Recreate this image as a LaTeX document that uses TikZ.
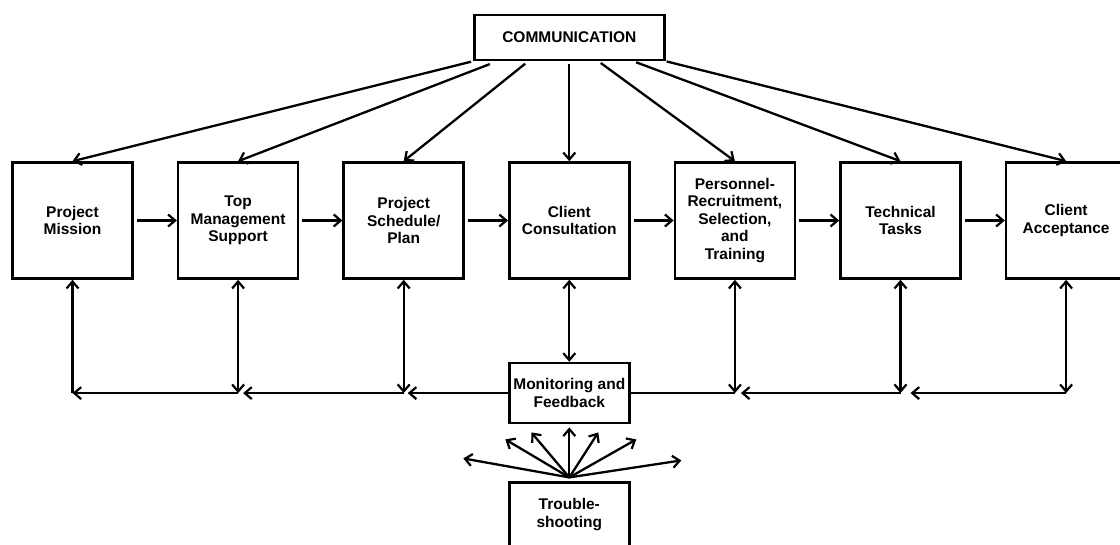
\documentclass[tikz,border=0pt]{standalone}
\usepackage{fontspec}
\setmainfont{Liberation Sans}
\usetikzlibrary{arrows.meta, positioning}
\tikzset{
  box/.style   = {draw, line width=2.6pt, align=center, inner sep=2pt,
                  font=\bfseries\fontsize{15.5}{17.5}\selectfont,
                  minimum width=120pt, minimum height=116pt},
  small/.style = {box, minimum height=62pt},
  flow/.style  = {-{Straight Barb[length=7pt, width=12pt, line width=2.2pt]}, line width=2.3pt},
  both/.style  = {{Straight Barb[length=7pt, width=12pt, line width=2.2pt]}-{Straight Barb[length=7pt, width=12pt, line width=2.2pt]},
                  line width=2.3pt},
  link/.style  = {line width=2.3pt}
}

\begin{document}
\begin{tikzpicture}[x=1pt, y=-1pt, node distance=43pt]
  \useasboundingbox (0,0) rectangle (1120,544);
  \clip (0,0) rectangle (1120,544);
  % main row
  \node[box] (pm) at (72.5,220.5) {Project\\Mission};
  \node[box, right=of pm] (tm) {Top\\Management\\Support};
  \node[box, right=of tm] (ps) {Project\\Schedule/\\Plan};
  \node[box, right=of ps] (cc) {Client\\Consultation};
  \node[box, right=of cc] (pers) {Personnel-\\Recruitment,\\Selection,\\and\\Training};
  \node[box, right=of pers] (tt) {Technical\\Tasks};
  \node[box, right=of tt] (ca) {Client\\Acceptance};
  \node[box, minimum width=190pt, minimum height=45pt, above=100pt of cc] (comm)
       {COMMUNICATION};
  \node[small, minimum height=60pt, below=82pt of cc] (mon) {Monitoring and\\Feedback};
  \node[small, minimum height=64pt, below=57pt of mon] (trouble) {Trouble-\\shooting};

  \foreach \a/\b in {pm/tm, tm/ps, ps/cc, cc/pers, pers/tt, tt/ca}
    \draw[flow, shorten <=3pt] (\a.east) -- (\b.west);

  % communication to every step
  \draw[flow, shorten <=2pt] (comm.south west) -- (pm.north);
  \draw[flow, shorten <=8pt] ([xshift=-72pt]comm.south) -- (tm.north);
  \draw[flow, shorten <=4pt] ([xshift=-41pt]comm.south) -- (ps.north);
  \draw[flow, shorten <=3pt] (comm.south) -- (cc.north);
  \draw[flow, shorten <=3pt] ([xshift=29pt]comm.south) -- (pers.north);
  \draw[flow, shorten <=3pt] ([xshift=64pt]comm.south) -- (tt.north);
  \draw[flow, shorten <=1pt] (comm.south east) -- (ca.north);

  % feedback loop
  \coordinate (pmj) at (pm.south |- mon.west);
  \coordinate (tmj) at (tm.south |- mon.west);
  \coordinate (psj) at (ps.south |- mon.west);
  \coordinate (persj) at (pers.south |- mon.east);
  \coordinate (ttj) at (tt.south |- mon.east);
  \coordinate (caj) at (ca.south |- mon.east);
  \draw[flow, shorten >=4pt] (mon.west) -- (psj);
  \draw[flow, shorten >=5pt] (psj) -- (tmj);
  \draw[flow] (tmj) -- (pmj);
  \draw[flow] (pmj) -- (pm.south);
  \draw[both] (tm.south) -- (tmj);
  \draw[both] (ps.south) -- (psj);
  \draw[both] (cc.south) -- (mon.north);
  \draw[link] (mon.east) -- (persj);
  \draw[flow, shorten >=6pt] (ttj) -- (persj);
  \draw[flow, shorten >=10pt] (caj) -- (ttj);
  \draw[both] (pers.south) -- (persj);
  \draw[both] (tt.south) -- (ttj);
  \draw[both] (ca.south) -- (caj);

  % troubleshooting fan
  \coordinate (fan) at ([yshift=4pt]trouble.north);
  \foreach \dx/\dy in {-106/-19, -64/-38, -38/-45, 0/-50, 29/-45, 67/-38, 112/-17}
    \draw[flow] (fan) -- ++(\dx,\dy);
\end{tikzpicture}
\end{document}
